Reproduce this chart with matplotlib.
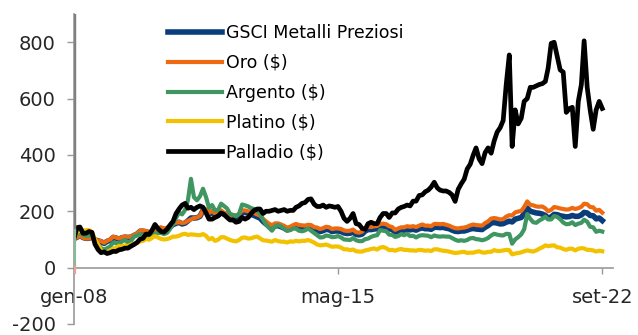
import numpy as np
import pandas as pd
import matplotlib
matplotlib.use("Agg")
import matplotlib.pyplot as plt

# indici mensili, gen-08 = 100
months = pd.date_range("2008-01-01", periods=177, freq="MS")

gsci = [
    103, 108, 114, 107, 104, 104, 110, 98, 95, 92, 86, 93,
    97, 107, 105, 101, 106, 108, 107, 108, 114, 119, 129, 129,
    127, 123, 125, 130, 136, 139, 135, 137, 144, 153, 157, 161,
    155, 158, 166, 176, 176, 177, 182, 203, 203, 189, 197, 187,
    186, 197, 189, 186, 177, 179, 178, 182, 196, 196, 193, 189,
    185, 180, 176, 164, 155, 147, 141, 148, 149, 145, 140, 134,
    137, 143, 147, 142, 141, 140, 143, 142, 136, 134, 128, 131,
    136, 134, 128, 130, 130, 128, 123, 121, 122, 126, 118, 116,
    119, 130, 135, 135, 137, 138, 146, 147, 145, 138, 135, 126,
    129, 133, 133, 136, 134, 136, 133, 138, 141, 138, 138, 136,
    143, 143, 142, 143, 140, 138, 133, 129, 128, 130, 130, 133,
    137, 139, 137, 136, 135, 143, 149, 158, 160, 158, 155, 156,
    161, 165, 162, 172, 175, 178, 191, 211, 200, 197, 194, 193,
    190, 185, 176, 180, 189, 188, 184, 182, 180, 181, 185, 182,
    182, 187, 196, 194, 185, 184, 173, 176, 167,
]
oro = [
    103, 107, 113, 106, 103, 103, 109, 98, 96, 94, 88, 95,
    100, 110, 107, 103, 108, 110, 109, 110, 116, 121, 131, 132,
    130, 127, 129, 133, 140, 143, 139, 141, 148, 156, 159, 162,
    158, 160, 166, 171, 176, 178, 183, 204, 206, 194, 202, 192,
    193, 203, 195, 192, 184, 186, 185, 190, 203, 203, 200, 196,
    194, 189, 185, 173, 164, 156, 150, 157, 157, 153, 148, 142,
    145, 151, 155, 151, 150, 149, 152, 151, 144, 142, 137, 140,
    145, 143, 137, 139, 139, 137, 132, 130, 131, 135, 126, 124,
    128, 140, 145, 144, 147, 148, 155, 156, 154, 147, 144, 134,
    139, 143, 143, 147, 145, 147, 144, 149, 153, 149, 149, 147,
    155, 155, 154, 155, 152, 149, 144, 140, 139, 141, 142, 145,
    150, 153, 151, 150, 149, 158, 164, 174, 176, 174, 171, 172,
    181, 186, 185, 196, 199, 201, 215, 235, 223, 221, 217, 216,
    217, 210, 200, 205, 215, 213, 210, 208, 206, 207, 212, 208,
    211, 216, 227, 225, 215, 214, 202, 205, 195,
]
argento = [
    107, 117, 128, 116, 113, 113, 119, 93, 83, 69, 64, 69,
    75, 89, 87, 83, 93, 98, 89, 95, 110, 114, 119, 115,
    118, 106, 114, 121, 123, 123, 119, 123, 137, 155, 176, 196,
    189, 205, 239, 315, 250, 239, 253, 280, 250, 212, 222, 203,
    205, 227, 219, 210, 191, 187, 183, 191, 224, 221, 217, 211,
    208, 201, 192, 170, 153, 141, 131, 147, 151, 146, 138, 131,
    133, 139, 138, 131, 129, 132, 139, 131, 123, 115, 107, 108,
    114, 112, 108, 109, 112, 107, 100, 99, 98, 105, 97, 94,
    94, 101, 103, 109, 113, 115, 133, 131, 129, 117, 116, 109,
    112, 119, 115, 120, 112, 113, 107, 113, 115, 114, 113, 108,
    114, 111, 110, 111, 110, 110, 105, 99, 95, 97, 95, 98,
    104, 105, 101, 100, 97, 100, 105, 114, 120, 117, 115, 114,
    120, 119, 85, 100, 108, 118, 136, 190, 173, 161, 159, 167,
    173, 181, 171, 171, 183, 180, 172, 160, 154, 155, 161, 151,
    156, 159, 170, 163, 145, 143, 127, 131, 128,
]
platino = [
    103, 127, 131, 131, 133, 133, 126, 101, 81, 62, 55, 55,
    61, 67, 71, 77, 75, 79, 76, 82, 85, 87, 93, 95,
    102, 99, 105, 112, 107, 102, 100, 101, 105, 110, 110, 113,
    118, 120, 116, 118, 117, 116, 115, 119, 113, 100, 105, 95,
    99, 108, 108, 103, 98, 95, 93, 98, 106, 107, 103, 104,
    108, 110, 104, 97, 96, 94, 92, 98, 94, 92, 92, 89,
    93, 92, 95, 93, 95, 95, 98, 94, 89, 82, 79, 80,
    82, 78, 74, 75, 75, 71, 65, 65, 62, 64, 58, 57,
    57, 61, 63, 66, 68, 64, 71, 73, 69, 62, 63, 60,
    64, 66, 63, 63, 61, 61, 60, 63, 62, 60, 61, 59,
    65, 65, 62, 60, 59, 57, 54, 52, 53, 55, 56, 52,
    53, 53, 56, 58, 54, 53, 56, 56, 62, 59, 59, 61,
    63, 62, 47, 50, 52, 54, 58, 61, 59, 57, 61, 67,
    72, 79, 76, 78, 79, 72, 71, 66, 63, 67, 67, 61,
    67, 69, 68, 63, 63, 61, 57, 60, 58,
]
palladio = [
    103, 142, 144, 122, 122, 128, 125, 83, 64, 53, 56, 50,
    53, 58, 57, 63, 65, 69, 69, 76, 82, 89, 101, 104,
    119, 118, 132, 153, 139, 128, 126, 136, 151, 164, 192, 208,
    222, 228, 211, 214, 206, 214, 219, 214, 194, 172, 172, 178,
    183, 194, 189, 178, 169, 169, 161, 164, 178, 172, 178, 192,
    203, 208, 208, 192, 200, 200, 203, 206, 200, 203, 206, 200,
    203, 203, 214, 219, 228, 231, 242, 244, 225, 217, 217, 222,
    214, 219, 217, 214, 217, 200, 175, 164, 175, 192, 156, 153,
    139, 136, 156, 161, 156, 156, 178, 192, 192, 178, 194, 194,
    208, 214, 217, 222, 219, 236, 236, 256, 258, 269, 275, 286,
    303, 283, 275, 272, 272, 267, 258, 235, 278, 297, 314, 350,
    367, 400, 425, 386, 369, 408, 425, 406, 450, 481, 497, 522,
    650, 755, 430, 560, 510, 530, 590, 600, 640, 640, 645, 650,
    653, 661, 708, 796, 800, 750, 702, 694, 551, 564, 569, 430,
    590, 650, 805, 640, 560, 491, 560, 590, 565,
]

labels = ["GSCI Metalli Preziosi", "Oro ($)", "Argento ($)", "Platino ($)", "Palladio ($)"]
colors = ["#0A3D7C", "#EE6A10", "#3F9660", "#F2C100", "#000000"]
widths = [4.0, 3.0, 3.0, 3.0, 3.4]
series = [gsci, oro, argento, platino, palladio]

tick_dates = pd.to_datetime(["2008-01-01", "2015-05-01", "2022-09-01"])
tick_labels = ["gen-08", "mag-15", "set-22"]
yticks = [-200, 0, 200, 400, 600, 800]

plt.rcParams["font.family"] = ["DejaVu Sans"]

fig = plt.figure(figsize=(6.38, 3.35), dpi=100)
ax = fig.add_axes([0.116, 0.033, 0.845, 0.925])

for vals, lab, col, lw in zip(series, labels, colors, widths):
    ax.plot(months, vals, color=col, lw=lw, label=lab, solid_joinstyle="round")

ax.set_ylim(-200, 900)
ax.set_xlim(pd.Timestamp("2008-01-01"), pd.Timestamp("2022-12-20"))

# asse verticale: parte alta spessa come nell'originale
ax.axvline(months[0], ymin=(130 + 200) / 1100, ymax=1, color="#808080", lw=3.2, zorder=5)
ax.axvline(months[0], ymin=200 / 1100, ymax=(130 + 200) / 1100, color="#8FB89A", lw=3.0, zorder=5)
ax.axvline(months[0], ymin=185 / 1100, ymax=200 / 1100, color="#F0A090", lw=3.0, zorder=5)

for s in ["top", "right"]:
    ax.spines[s].set_visible(False)
ax.spines["bottom"].set_position(("data", 0))
ax.spines["bottom"].set_color("#999999")
ax.spines["left"].set_color("#999999")
ax.spines["bottom"].set_linewidth(1.2)
ax.spines["left"].set_linewidth(1.2)

ax.set_yticks(yticks)
ax.set_yticklabels([str(v) for v in yticks])
ax.set_xticks(tick_dates)
ax.set_xticklabels(tick_labels)
ax.tick_params(axis="y", direction="out", length=5, width=1, color="#999999",
               labelsize=14, labelcolor="#262626", pad=8)
ax.tick_params(axis="x", direction="out", length=4, width=1, color="#999999",
               labelsize=14, labelcolor="#262626", pad=11)

ax.legend(loc="upper left", bbox_to_anchor=(168 / 638, 1 - 24 / 335),
          bbox_transform=fig.transFigure, frameon=False, fontsize=12.5,
          handlelength=3.1, handletextpad=0.25, labelspacing=0.68,
          borderpad=0, borderaxespad=0)

fig.savefig("out.png", dpi=100)
